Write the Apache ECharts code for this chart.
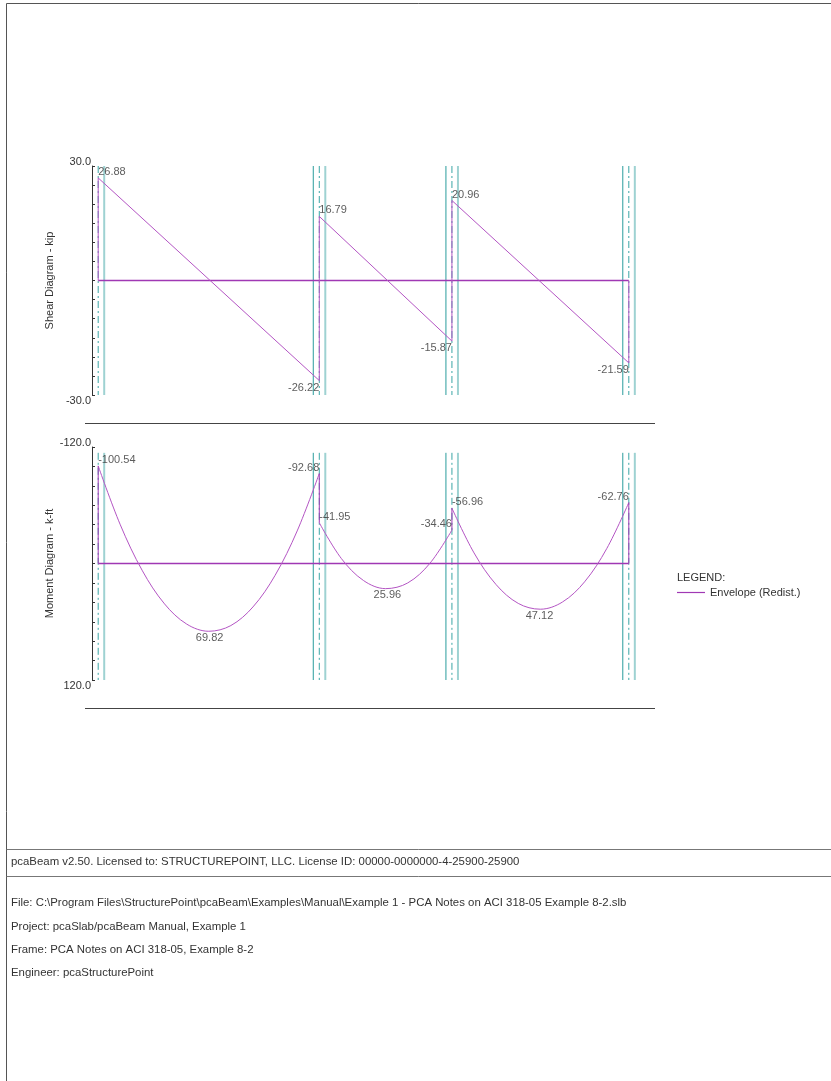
<!DOCTYPE html>
<html>
<head>
<meta charset="utf-8">
<script src="https://cdn.jsdelivr.net/npm/echarts@6/dist/echarts.min.js"></script>
<style>
html,body{margin:0;padding:0;background:#fff;}
#chart{width:831px;height:1081px;}
</style>
</head>
<body>
<div id="chart"></div>
<script>
// ---- data (ft, kip, k-ft) ----
const supportX = [0, 25, 40, 60];
const supportHalfWidth = 0.68;
const spanStart = [0, 25, 40];
const spanEnd = [25, 40, 60];

const shearStart = [26.88, 16.79, 20.96];
const shearEnd = [-26.22, -15.87, -21.59];

const momentStart = [-100.54, -41.95, -56.96];
const momentEnd = [-92.68, -34.46, -62.76];
const momentMaxX = [12.6, 32.7, 49.9];
const momentMax = [69.82, 25.96, 47.12];

// moment values read along each span (every 2.5 ft)
const momentSpan1X = [0, 2.5, 5, 7.5, 10, 12.5, 15, 17.5, 20, 22.5, 25];
const momentSpan1 = [-100.54, -39.85, 7.53, 41.6, 62.36, 69.8, 63.93, 44.75, 12.26, -33.55, -92.68];
const momentSpan2X = [25, 27.5, 30, 32.5, 35, 37.5, 40];
const momentSpan2 = [-41.95, -5.08, 17.54, 25.9, 20.03, -0.09, -34.46];
const momentSpan3X = [40, 42.5, 45, 47.5, 50, 52.5, 55, 57.5, 60];
const momentSpan3 = [-56.96, -10.9, 21.8, 41.12, 47.08, 39.66, 18.88, -15.28, -62.76];

const shearAxis = [-30, 30, 5];
const momentAxis = [-120, 120, 20];
const shearTitle = 'Shear Diagram - kip';
const momentTitle = 'Moment Diagram - k-ft';
const seriesName = 'Envelope (Redist.)';
const momentSupportTop = -114;

const footerHeader = 'pcaBeam v2.50. Licensed to: STRUCTUREPOINT, LLC. License ID: 00000-0000000-4-25900-25900';
const footerLines = [
  'File: C:\\Program Files\\StructurePoint\\pcaBeam\\Examples\\Manual\\Example 1 - PCA Notes on ACI 318-05 Example 8-2.slb',
  'Project: pcaSlab/pcaBeam Manual, Example 1',
  'Frame: PCA Notes on ACI 318-05, Example 8-2',
  'Engineer: pcaStructurePoint'
];

// ---- styles ----
const FONT = "'Liberation Sans', Arial, sans-serif";
const PURPLE = '#b455c4';
const PURPLE_DARK = '#a038b4';
const TEAL_DARK = '#2a9c9c';
const TEAL_LIGHT = '#9ed2d2';
const TEAL_DASH = '#3aa6a6';
const TXT = '#333';

const chart = echarts.init(document.getElementById('chart'), null, {renderer: 'canvas'});

const series = [];

function supportSeries(gi, yTop, yBot) {
  supportX.forEach((c, i) => {
    if (i > 0) {
      series.push({type: 'line', xAxisIndex: gi, yAxisIndex: gi, symbol: 'none', silent: true, z: 1,
        lineStyle: {color: TEAL_DARK, width: 1},
        data: [[c - supportHalfWidth, yTop], [c - supportHalfWidth, yBot]]});
    }
    series.push({type: 'line', xAxisIndex: gi, yAxisIndex: gi, symbol: 'none', silent: true, z: 1,
      lineStyle: {color: TEAL_DASH, width: 1, type: [7, 3, 2, 3]},
      data: [[c, yTop], [c, yBot]]});
    series.push({type: 'line', xAxisIndex: gi, yAxisIndex: gi, symbol: 'none', silent: true, z: 1,
      lineStyle: {color: TEAL_LIGHT, width: 2},
      data: [[c + supportHalfWidth, yTop], [c + supportHalfWidth, yBot]]});
  });
}
supportSeries(0, shearAxis[1], shearAxis[0]);
supportSeries(1, momentSupportTop, momentAxis[1]);

const envStyle = (color, width) => ({symbol: 'none', z: 4, itemStyle: {color: PURPLE_DARK},
  lineStyle: {color: color, width: width}});

// zero lines
[0, 1].forEach(gi => {
  series.push(Object.assign({name: seriesName, type: 'line', xAxisIndex: gi, yAxisIndex: gi,
    data: [[supportX[0], 0], [supportX[supportX.length - 1], 0]]}, envStyle(PURPLE_DARK, 1.5), {z: 3}));
});

// shear diagram: continuous polyline with jumps at supports
const shearPts = [[spanStart[0], 0]];
spanStart.forEach((s, i) => {
  shearPts.push([s, shearStart[i]]);
  shearPts.push([spanEnd[i], shearEnd[i]]);
});
shearPts.push([spanEnd[spanEnd.length - 1], 0]);
series.push(Object.assign({name: seriesName, type: 'line', xAxisIndex: 0, yAxisIndex: 0, data: shearPts},
  envStyle(PURPLE, 1)));

// moment diagram: span curves
[[momentSpan1X, momentSpan1], [momentSpan2X, momentSpan2], [momentSpan3X, momentSpan3]].forEach(([xs, vs]) => {
  series.push(Object.assign({name: seriesName, type: 'line', xAxisIndex: 1, yAxisIndex: 1, smooth: 0.35,
    data: xs.map((x, k) => [x, vs[k]])}, envStyle(PURPLE, 1)));
});
// moment jumps at supports
supportX.forEach((c, i) => {
  const before = i === 0 ? 0 : momentEnd[i - 1];
  const after = i === supportX.length - 1 ? 0 : momentStart[i];
  series.push(Object.assign({name: seriesName, type: 'line', xAxisIndex: 1, yAxisIndex: 1,
    data: [[c, before], [c, after]]}, envStyle(PURPLE_DARK, 1)));
});

// value labels
function labelItem(x, v, pos, up) {
  let offset = [0, up ? -6 : 7];
  if (pos === 'bottom') offset = [0, 1];
  return {value: [x, v], label: {show: true, position: pos, distance: 0, offset: offset}};
}
const shearLabels = [];
spanStart.forEach((s, i) => {
  shearLabels.push(labelItem(s, shearStart[i], 'right', shearStart[i] > 0));
  shearLabels.push(labelItem(spanEnd[i], shearEnd[i], 'left', shearEnd[i] > 0));
});
const momentLabels = [];
spanStart.forEach((s, i) => {
  momentLabels.push(labelItem(s, momentStart[i], 'right', momentStart[i] < 0));
  momentLabels.push(labelItem(momentMaxX[i], momentMax[i], 'bottom', false));
  momentLabels.push(labelItem(spanEnd[i], momentEnd[i], 'left', momentEnd[i] < 0));
});
const labelCommon = {type: 'scatter', symbolSize: 0.01, silent: true, z: 6,
  itemStyle: {color: 'rgba(0,0,0,0)'},
  label: {color: TXT, fontSize: 11, fontFamily: FONT, formatter: p => p.value[1].toFixed(2)}};
series.push(Object.assign({}, labelCommon, {xAxisIndex: 0, yAxisIndex: 0, data: shearLabels}));
series.push(Object.assign({}, labelCommon, {xAxisIndex: 1, yAxisIndex: 1, data: momentLabels}));

function yAxisDef(ax, title, inverse) {
  const [mn, mx, step] = ax;
  return {
    type: 'value', min: mn, max: mx, interval: step, inverse: inverse,
    name: title, nameLocation: 'middle', nameGap: 37, nameMoveOverlap: false,
    nameTextStyle: {fontSize: 11, fontFamily: FONT, color: TXT},
    axisLine: {show: true, onZero: false, lineStyle: {color: '#333', width: 1}},
    axisTick: {show: true, inside: true, length: 3, lineStyle: {color: '#333'}},
    splitLine: {show: false},
    axisLabel: {
      margin: 1, fontSize: 11, fontFamily: FONT, color: TXT,
      formatter: v => {
        const top = inverse ? mn : mx;
        const bot = inverse ? mx : mn;
        if (v === top) return '{t|' + v.toFixed(1) + '}';
        if (v === bot) return '{b|' + v.toFixed(1) + '}';
        return '';
      },
      rich: {
        t: {fontSize: 11, fontFamily: FONT, color: TXT, padding: [0, 0, 9, 0]},
        b: {fontSize: 11, fontFamily: FONT, color: TXT, padding: [11, 0, 0, 0]}
      }
    }
  };
}

const FFONT = '11.4px ' + FONT;
const graphic = [
  // page border
  {type: 'line', shape: {x1: 6.5, y1: 3.5, x2: 831, y2: 3.5}, style: {stroke: '#555', lineWidth: 1}},
  {type: 'line', shape: {x1: 6.5, y1: 3.5, x2: 6.5, y2: 1081}, style: {stroke: '#555', lineWidth: 1}},
  // underlines of diagrams
  {type: 'line', shape: {x1: 85, y1: 423.5, x2: 655, y2: 423.5}, style: {stroke: '#444', lineWidth: 1}},
  {type: 'line', shape: {x1: 85, y1: 708.5, x2: 655, y2: 708.5}, style: {stroke: '#444', lineWidth: 1}},
  // footer separators
  {type: 'line', shape: {x1: 6.5, y1: 849.5, x2: 831, y2: 849.5}, style: {stroke: '#777', lineWidth: 1}},
  {type: 'line', shape: {x1: 6.5, y1: 876.5, x2: 831, y2: 876.5}, style: {stroke: '#777', lineWidth: 1}},
  {type: 'text', left: 677, top: 572, style: {text: 'LEGEND:', font: '11px ' + FONT, fill: TXT}},
  {type: 'text', left: 11, top: 856.5, style: {text: footerHeader, font: FFONT, fill: TXT}}
];
const footerY = [897, 921, 944, 967];
footerLines.forEach((t, i) => {
  graphic.push({type: 'text', left: 11, top: footerY[i], style: {text: t, font: FFONT, fill: TXT}});
});

chart.setOption({
  backgroundColor: '#fff',
  animation: false,
  grid: [
    {left: 92, top: 166, width: 543, height: 229},
    {left: 92, top: 447, width: 543, height: 233}
  ],
  xAxis: [
    {type: 'value', gridIndex: 0, min: -0.7, max: 60.7, show: false},
    {type: 'value', gridIndex: 1, min: -0.7, max: 60.7, show: false}
  ],
  yAxis: [
    Object.assign(yAxisDef(shearAxis, shearTitle, false), {gridIndex: 0}),
    Object.assign(yAxisDef(momentAxis, momentTitle, true), {gridIndex: 1})
  ],
  legend: {
    data: [{name: seriesName, icon: 'rect', itemStyle: {color: PURPLE_DARK, borderWidth: 0}}],
    left: 677, top: 587, padding: 0,
    itemWidth: 28, itemHeight: 1.2, itemGap: 4,
    itemStyle: {color: PURPLE_DARK, borderWidth: 0},
    lineStyle: {color: PURPLE_DARK},
    textStyle: {fontSize: 11, fontFamily: FONT, color: TXT}
  },
  graphic: graphic,
  series: series
});
</script>
</body>
</html>
